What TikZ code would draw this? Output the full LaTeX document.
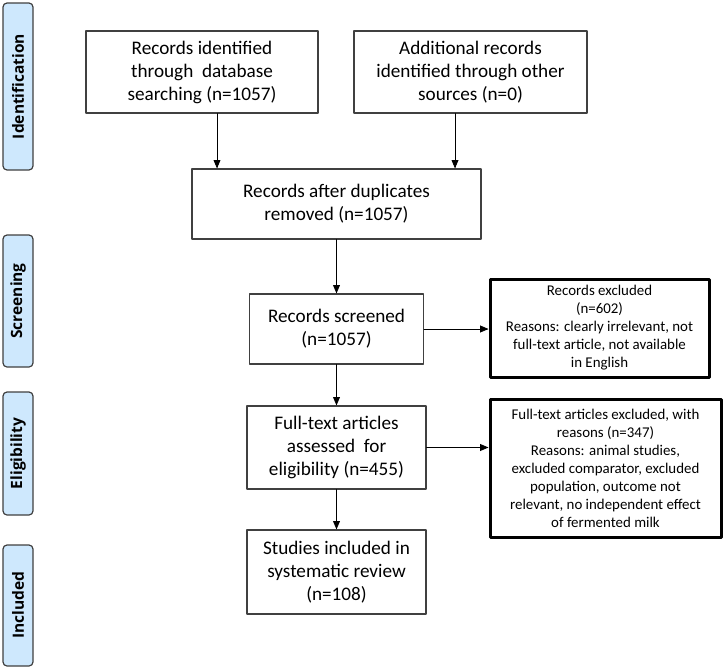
\documentclass[tikz,border=0pt]{standalone}
\usepackage{fontspec}
\setmainfont{Carlito}
\newfontfamily\sidefont{Open Sans}
\usetikzlibrary{arrows}
\definecolor{sideblue}{RGB}{206,232,253}
\definecolor{boxgray}{RGB}{64,64,64}

\begin{document}
\begin{tikzpicture}[line cap=round,line join=round,>=triangle 45,x=1pt,y=-1pt]
			\tikzset{
				flowbox/.style={draw=boxgray,line width=1.2pt,align=center,inner sep=0pt,font=\fontsize{19.2}{23}\selectfont},
				exclbox/.style={draw=black,line width=3pt,align=center,inner sep=0pt,font=\fontsize{14.9}{18}\selectfont},
				phase/.style={draw=boxgray,line width=1.2pt,fill=sideblue,rounded corners=4pt,rotate=90,minimum height=30pt,inner sep=0pt,font=\sidefont\bfseries\fontsize{15.5}{18}\selectfont},
				flowline/.style={line width=0.9pt,color=black}
			}
			\useasboundingbox (0,0) rectangle (724,672);
			% phase labels on the left
			\node[phase,minimum width=167pt] (phIdent) at (18,86.5) {Identification};
			\node[phase,minimum width=132pt] (phScreen) at (18,301) {Screening};
			\node[phase,minimum width=123pt] (phElig) at (18,453.5) {Eligibility};
			\node[phase,minimum width=121pt] (phIncl) at (18,605.5) {Included};
			% main flow
			\node[flowbox,minimum width=232pt,minimum height=82pt] (ident) at (202,72) {Records identified\\through\ \ database\\searching (n=1057)};
			\node[flowbox,minimum width=233pt,minimum height=82pt] (other) at (470.5,72) {Additional records\\identified through other\\sources (n=0)};
			\node[flowbox,minimum width=289pt,minimum height=70pt] (dup) at (336.5,204) {Records after duplicates\\removed (n=1057)};
			\node[flowbox,minimum width=174pt,minimum height=70pt] (screen) at (336.5,329) {Records screened\\(n=1057)};
			\node[flowbox,minimum width=179pt,minimum height=83pt] (full) at (336.5,447.5) {Full-text articles\\assessed\ \ for\\eligibility (n=455)};
			\node[flowbox,minimum width=179pt,minimum height=84pt] (incl) at (336.5,572) {Studies included in\\systematic review\\(n=108)};
			% exclusions
			\node[exclbox,minimum width=219pt,minimum height=98pt] (excl1) at (599.5,328) {Records excluded\\(n=602)\\Reasons: clearly irrelevant, not\\full-text article, not available\\in English};
			\node[exclbox,minimum width=231pt,minimum height=138pt] (excl2) at (605.5,468) {Full-text articles excluded, with\\reasons (n=347)\\Reasons: animal studies,\\excluded comparator, excluded\\population, outcome not\\relevant, no independent effect\\of fermented milk};
			% arrows
			\draw [->,flowline] ([xshift=15pt]ident.south) -- ([xshift=15pt]ident.south |- dup.north);
			\draw [->,flowline] ([xshift=-15.5pt]other.south) -- ([xshift=-15.5pt]other.south |- dup.north);
			\draw [->,flowline] (dup.south) -- (screen.north);
			\draw [->,flowline] (screen.east) -- (screen.east -| excl1.west);
			\draw [->,flowline] (screen.south) -- (full.north);
			\draw [->,flowline] (full.east) -- (full.east -| excl2.west);
			\draw [->,flowline] (full.south) -- (incl.north);
		\end{tikzpicture}
\end{document}
